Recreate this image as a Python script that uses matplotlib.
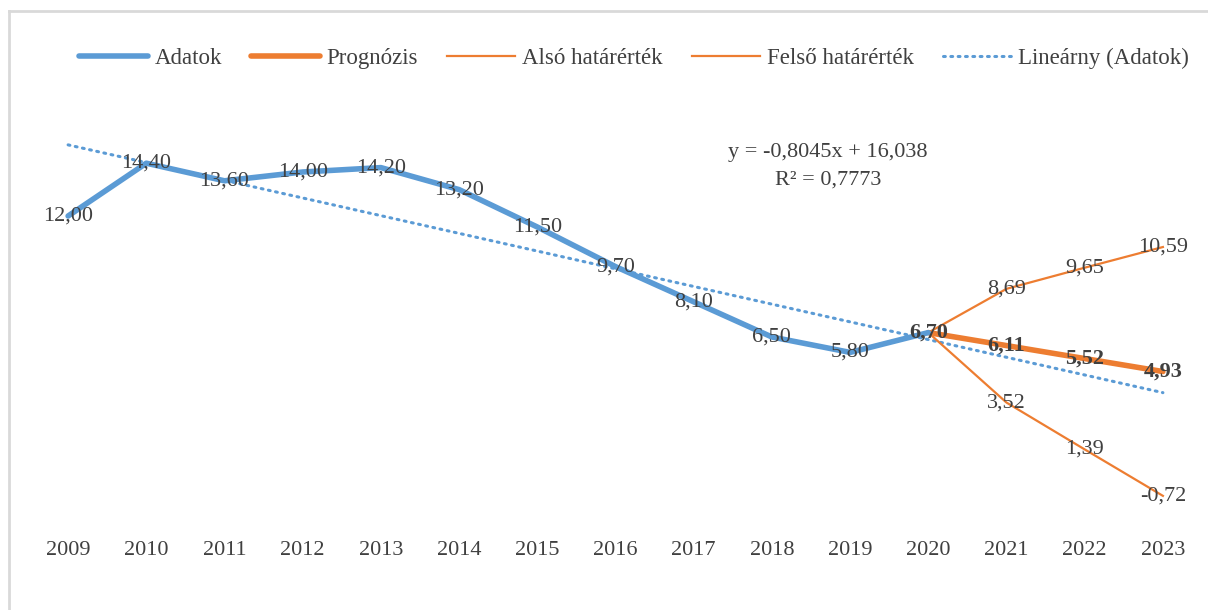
import numpy as np
import matplotlib.pyplot as plt
from matplotlib.lines import Line2D

years = ['2009', '2010', '2011', '2012', '2013', '2014', '2015', '2016',
         '2017', '2018', '2019', '2020', '2021', '2022', '2023']
adatok = [12.00, 14.40, 13.60, 14.00, 14.20, 13.20, 11.50, 9.70,
          8.10, 6.50, 5.80, 6.70]
prognozis = [6.70, 6.11, 5.52, 4.93]
also = [6.70, 3.52, 1.39, -0.72]
felso = [6.70, 8.69, 9.65, 10.59]

blue = '#5B9BD5'
orange = '#ED7D31'
txt = '#404040'
fs = 16

plt.rcParams['font.family'] = ['Liberation Serif', 'DejaVu Serif']

fig = plt.figure(figsize=(12.08, 6.10), dpi=100)
ax = fig.add_axes([29 / 1208, 86 / 610, 1173 / 1208, 396 / 610])

x_all = np.arange(len(years))
x_data = x_all[:len(adatok)]
x_fc = x_all[len(adatok) - 1:]

# linear trend of the data, extended over the forecast years
coef = np.polyfit(x_data + 1, adatok, 1)
trend = np.polyval(coef, x_all + 1)

ax.plot(x_all, trend, color=blue, lw=2.2, ls=(0, (0.6, 1.8)),
        dash_capstyle='round', zorder=2)
ax.plot(x_fc, also, color=orange, lw=1.6, zorder=3)
ax.plot(x_fc, felso, color=orange, lw=1.6, zorder=3)
ax.plot(x_fc, prognozis, color=orange, lw=4, solid_capstyle='round', zorder=4)
ax.plot(x_data, adatok, color=blue, lw=4, solid_capstyle='round',
        solid_joinstyle='round', zorder=5)


def fmt(v):
    return f'{v:.2f}'.replace('.', ',')


for xi, v in zip(x_data[:-1], adatok[:-1]):
    ax.text(xi, v, fmt(v), ha='center', va='center', fontsize=fs,
            color=txt, zorder=6)
for xi, v in zip(x_fc[1:], also[1:]):
    ax.text(xi, v, fmt(v), ha='center', va='center', fontsize=fs,
            color=txt, zorder=6)
for xi, v in zip(x_fc[1:], felso[1:]):
    ax.text(xi, v, fmt(v), ha='center', va='center', fontsize=fs,
            color=txt, zorder=6)
for xi, v in zip(x_fc, prognozis):
    ax.text(xi, v, fmt(v), ha='center', va='center', fontsize=fs,
            fontweight='bold', color=txt, zorder=6)

ax.text(0.681, 0.939,
        f'y = {coef[0]:.4f}x + {coef[1]:.3f}'.replace('.', ','),
        transform=ax.transAxes, ha='center', va='center', fontsize=fs, color=txt)
ax.text(0.681, 0.869, 'R² = 0,7773', transform=ax.transAxes,
        ha='center', va='center', fontsize=fs, color=txt)

ax.set_xlim(-0.5, len(years) - 0.5)
ax.set_ylim(-2, 16)
ax.set_xticks(x_all)
ax.set_xticklabels(years, fontsize=fs, color=txt)
ax.tick_params(axis='x', length=0, pad=12)
ax.set_yticks([])
for s in ax.spines.values():
    s.set_visible(False)

handles = [
    Line2D([], [], color=blue, lw=4, solid_capstyle='round'),
    Line2D([], [], color=orange, lw=4, solid_capstyle='round'),
    Line2D([], [], color=orange, lw=1.6),
    Line2D([], [], color=orange, lw=1.6),
    Line2D([], [], color=blue, lw=2.2, ls=(0, (0.6, 1.8)), dash_capstyle='round'),
]
labels = ['Adatok', 'Prognózis', 'Alsó határérték', 'Felső határérték',
          'Lineárny (Adatok)']
leg = fig.legend(handles, labels, loc='center', bbox_to_anchor=(0.525, 1 - 58 / 610),
                 ncol=5, frameon=False, fontsize=16.5, handlelength=3.0,
                 handletextpad=0.3, columnspacing=1.25)
for t in leg.get_texts():
    t.set_color(txt)

# chart-area border (left and top edges visible)
fig.add_artist(Line2D([9 / 1208, 9 / 1208], [0, 1 - 11 / 610],
                      transform=fig.transFigure, color='#D9D9D9', lw=2))
fig.add_artist(Line2D([9 / 1208, 1], [1 - 11 / 610, 1 - 11 / 610],
                      transform=fig.transFigure, color='#D9D9D9', lw=2))

fig.savefig('out.png', dpi=100)
